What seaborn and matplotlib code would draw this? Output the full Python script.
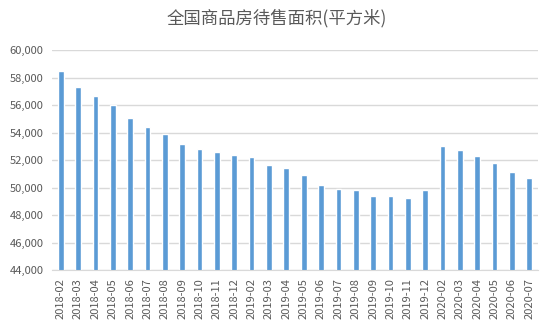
import matplotlib
matplotlib.use("Agg")
import matplotlib.pyplot as plt
import seaborn as sns
import pandas as pd
from matplotlib.ticker import FuncFormatter, MultipleLocator

months = ["2018-02", "2018-03", "2018-04", "2018-05", "2018-06", "2018-07", "2018-08",
          "2018-09", "2018-10", "2018-11", "2018-12", "2019-02", "2019-03", "2019-04",
          "2019-05", "2019-06", "2019-07", "2019-08", "2019-09", "2019-10", "2019-11",
          "2019-12", "2020-02", "2020-03", "2020-04", "2020-05", "2020-06", "2020-07"]
area = [58460, 57280, 56630, 56010, 55050, 54390, 53880, 53150, 52780, 52610, 52390,
        52240, 51610, 51400, 50890, 50170, 49880, 49800, 49370, 49370, 49220, 49800,
        53000, 52710, 52270, 51760, 51100, 50660]
title = "全国商品房待售面积(平方米)"

df = pd.DataFrame({"month": months, "area": area})

sns.set_style("white")
plt.rcParams['font.family'] = ['Noto Sans CJK SC', 'DejaVu Sans']

fig = plt.figure(figsize=(5.54, 3.36), dpi=100)
ax = fig.add_axes([52/554, 1-270/336, (538-52)/554, (270-50)/336])

sns.barplot(data=df, x="month", y="area", color="#5B9BD5", width=0.33,
            saturation=1, ax=ax, zorder=3)

ax.set_ylim(44000, 60000)
ax.yaxis.set_major_locator(MultipleLocator(2000))
ax.yaxis.set_major_formatter(FuncFormatter(lambda v, p: f"{int(v):,}"))
ax.grid(axis="y", color="#D9D9D9", linewidth=1, zorder=0)
ax.set_axisbelow(True)
for s in ["left", "right", "top"]:
    ax.spines[s].set_visible(False)
ax.spines["bottom"].set_color("#D9D9D9")
ax.spines["bottom"].set_zorder(4)
ax.tick_params(axis="both", length=0, colors="#595959")
ax.tick_params(axis="y", labelsize=8, pad=6)
ax.tick_params(axis="x", labelsize=8, rotation=90, pad=6)
ax.set_xlabel("")
ax.set_ylabel("")
ax.set_xlim(-0.5, len(months) - 0.5)

fig.text(0.5, 1-18/336, title, ha="center", va="center", fontsize=12.5, color="#595959")

fig.savefig("out.png", dpi=100)
